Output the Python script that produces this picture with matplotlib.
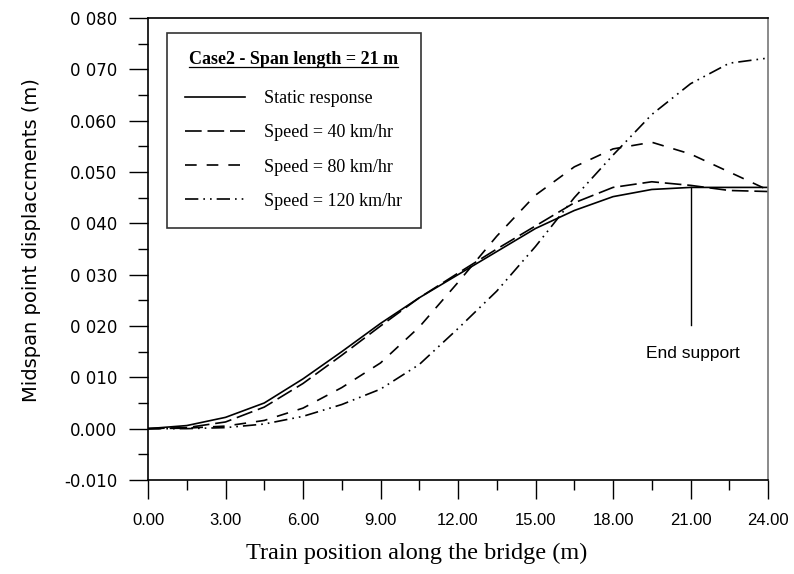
import numpy as np
import matplotlib; matplotlib.use("Agg")
import matplotlib.pyplot as plt
from matplotlib.ticker import MultipleLocator, FixedLocator

# train position (m)
pos = [0, 1.5, 3, 4.5, 6, 7.5, 9, 10.5, 12, 13.5, 15, 16.5, 18, 19.5, 21, 22.5, 24]
static = [0, 0.0006, 0.0022, 0.0050, 0.0097, 0.0150, 0.0205, 0.0255, 0.0300,
          0.0345, 0.0390, 0.0425, 0.0452, 0.0466, 0.0470, 0.0470, 0.0470]
v40 = [0, 0.0002, 0.0013, 0.0042, 0.0088, 0.0143, 0.0200, 0.0255, 0.0303,
       0.0350, 0.0395, 0.0440, 0.0470, 0.0481, 0.0474, 0.0464, 0.0462]
v80 = [0, 0.0001, 0.0005, 0.0016, 0.0040, 0.0080, 0.0128, 0.0198, 0.0285,
       0.0375, 0.0455, 0.0510, 0.0545, 0.0558, 0.0535, 0.0500, 0.0465]
v120 = [0, 0.0000, 0.0002, 0.0009, 0.0024, 0.0047, 0.0077, 0.0125, 0.0195,
        0.0268, 0.0355, 0.0450, 0.0533, 0.0612, 0.0672, 0.0712, 0.0722]

labels = ["Static response", "Speed = 40 km/hr", "Speed = 80 km/hr", "Speed = 120 km/hr"]
yticks = [-0.010, 0.000, 0.010, 0.020, 0.030, 0.040, 0.050, 0.060, 0.070, 0.080]
ytick_labels = ["-0.010", "0.000", "0 010", "0 020", "0 030", "0 040",
                "0.050", "0.060", "0 070", "0 080"]
xticks = [0, 3, 6, 9, 12, 15, 18, 21, 24]
xtick_labels = ["0.00", "3.00", "6.00", "9.00", "12.00", "15.00", "18.00", "21.00", "24.00"]
end_support_x = 21
end_support_y = (0.0202, 0.0471)

fig = plt.figure(figsize=(7.94, 5.74), dpi=100)
ax = fig.add_axes([0.1864, 0.1638, 0.7809, 0.8048])

lw = 1.2
ax.plot(pos, static, color="black", lw=lw, label=labels[0])
ax.plot(pos, v40, color="black", lw=lw, dashes=(10, 3.5), label=labels[1])
ax.plot(pos, v80, color="black", lw=lw, dashes=(7, 6), label=labels[2])
ax.plot(pos, v120, color="black", lw=lw, dashes=(8, 3, 1, 3, 1, 3), label=labels[3])

# end support marker
ax.plot([end_support_x, end_support_x], end_support_y, color="black", lw=1.0)
ax.text(end_support_x + 0.1, 0.0147, "End support", ha="center", va="center",
        fontsize=12.5, family="Liberation Sans")

ax.set_xlim(0, 24)
ax.set_ylim(-0.010, 0.080)
ax.xaxis.set_major_locator(FixedLocator(xticks))
ax.set_xticklabels(xtick_labels, family="Liberation Sans", fontsize=12)
ax.xaxis.set_minor_locator(MultipleLocator(1.5))
ax.yaxis.set_major_locator(FixedLocator(yticks))
ax.set_yticklabels(ytick_labels, family="DejaVu Sans", fontsize=12)
ax.yaxis.set_minor_locator(MultipleLocator(0.005))
ax.tick_params(which="major", direction="out", length=14, width=1.0)
ax.tick_params(axis="x", which="major", pad=10)
ax.tick_params(axis="y", which="major", pad=8)
ax.tick_params(which="minor", direction="out", length=7, width=1.0)

for s in ["left", "bottom", "top"]:
    ax.spines[s].set_linewidth(1.2)
ax.spines["right"].set_color("#777777")
ax.spines["right"].set_linewidth(1.2)

ax.set_xlabel("Train position along the bridge (m)", family="Liberation Serif",
              fontsize=17.5)
ax.xaxis.set_label_coords(0.434, -0.137)
ax.set_ylabel("Midspan point displaccments (m)", family="DejaVu Sans",
              fontsize=14)
ax.yaxis.set_label_coords(-0.173, 0.52)

leg = ax.legend(loc="upper left", bbox_to_anchor=(0.0306, 0.9675),
                title="Case2 - Span length = 21 m",
                prop={"family": "Liberation Serif", "size": 13},
                title_fontproperties={"family": "Liberation Serif", "size": 13, "weight": "bold"},
                frameon=True, fancybox=False, edgecolor="black",
                handlelength=3.3, handletextpad=1.1, labelspacing=0.95,
                borderpad=1.0, borderaxespad=0)
leg.get_frame().set_linewidth(1.2)
leg._legend_box.sep = 16

# underline the legend title
fig.canvas.draw()
bb = leg.get_title().get_window_extent().transformed(fig.transFigure.inverted())
fig.add_artist(plt.Line2D([bb.x0, bb.x1], [bb.y0 + 0.002, bb.y0 + 0.002],
                          transform=fig.transFigure, color="black", lw=0.9))

fig.savefig("out.png", dpi=100)
